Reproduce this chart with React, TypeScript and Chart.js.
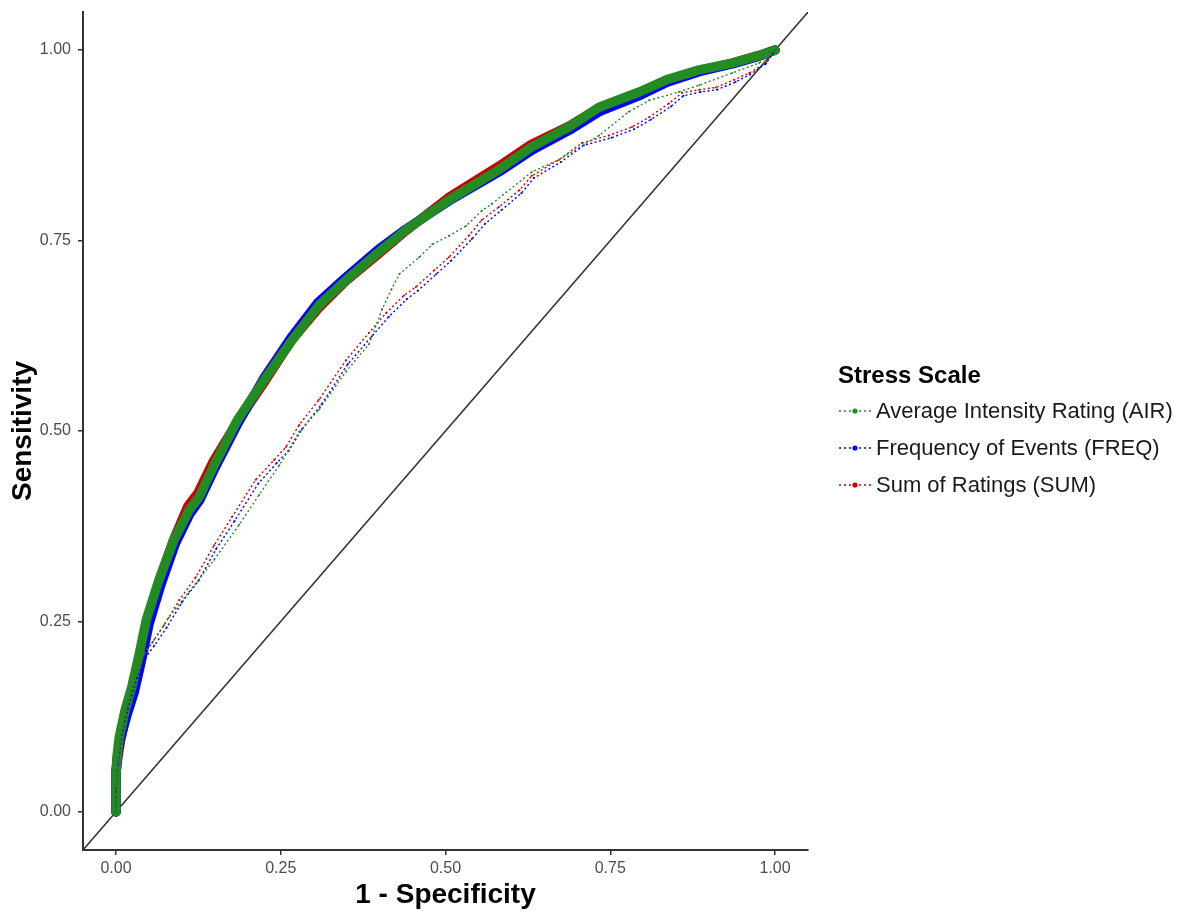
import React, { useEffect, useRef } from "react";
import { Chart, registerables } from "chart.js";

Chart.register(...registerables);

const FONT = "'Liberation Sans', Arial, Helvetica, sans-serif";

const tickValues = [0, 0.25, 0.5, 0.75, 1];
const legendTitle = "Stress Scale";
const seriesNames = ["Average Intensity Rating (AIR)", "Frequency of Events (FREQ)", "Sum of Ratings (SUM)"];
const seriesColors = ["#228B22", "#0000FF", "#CD0000"];

// Solid (thick) ROC curves
const airFpr = [0, 0, 0.002, 0.005, 0.014, 0.024, 0.035, 0.046, 0.065, 0.088, 0.111, 0.126, 0.149, 0.184, 0.225, 0.267, 0.308, 0.349, 0.399, 0.44, 0.505, 0.581, 0.631, 0.687, 0.733, 0.794, 0.835, 0.885, 0.935, 0.976, 1];
const airTpr = [0, 0.049, 0.075, 0.098, 0.134, 0.164, 0.206, 0.252, 0.304, 0.357, 0.396, 0.413, 0.455, 0.514, 0.567, 0.619, 0.665, 0.698, 0.735, 0.764, 0.803, 0.843, 0.873, 0.899, 0.925, 0.945, 0.961, 0.974, 0.983, 0.993, 1];
const freqFpr = [0, 0, 0.002, 0.006, 0.017, 0.028, 0.039, 0.05, 0.068, 0.09, 0.112, 0.127, 0.15, 0.185, 0.225, 0.266, 0.307, 0.348, 0.398, 0.44, 0.505, 0.581, 0.632, 0.688, 0.735, 0.796, 0.837, 0.886, 0.935, 0.976, 1];
const freqTpr = [0, 0.052, 0.072, 0.094, 0.128, 0.158, 0.2, 0.246, 0.298, 0.352, 0.391, 0.409, 0.451, 0.51, 0.57, 0.623, 0.669, 0.701, 0.738, 0.765, 0.802, 0.84, 0.869, 0.895, 0.92, 0.941, 0.958, 0.972, 0.982, 0.992, 1];
const sumFpr = [0, 0, 0.003, 0.007, 0.016, 0.026, 0.036, 0.047, 0.065, 0.087, 0.109, 0.124, 0.147, 0.184, 0.225, 0.267, 0.308, 0.349, 0.399, 0.44, 0.504, 0.58, 0.63, 0.687, 0.733, 0.794, 0.835, 0.885, 0.935, 0.976, 1];
const sumTpr = [0, 0.05, 0.072, 0.094, 0.13, 0.16, 0.202, 0.249, 0.302, 0.356, 0.401, 0.418, 0.459, 0.512, 0.564, 0.62, 0.662, 0.697, 0.733, 0.763, 0.806, 0.847, 0.876, 0.9, 0.924, 0.944, 0.96, 0.973, 0.983, 0.993, 1];

// Dotted ROC curves
const airFprB = [0, 0, 0.003, 0.008, 0.017, 0.03, 0.042, 0.058, 0.08, 0.111, 0.149, 0.187, 0.217, 0.248, 0.278, 0.308, 0.349, 0.384, 0.404, 0.418, 0.43, 0.46, 0.48, 0.505, 0.531, 0.555, 0.57, 0.631, 0.672, 0.733, 0.778, 0.809, 0.854, 0.885, 0.935, 0.976, 1];
const airTprB = [0, 0.029, 0.068, 0.101, 0.14, 0.18, 0.206, 0.226, 0.255, 0.289, 0.331, 0.377, 0.416, 0.455, 0.499, 0.528, 0.578, 0.614, 0.66, 0.686, 0.706, 0.728, 0.745, 0.756, 0.769, 0.789, 0.798, 0.84, 0.856, 0.888, 0.919, 0.934, 0.945, 0.954, 0.97, 0.983, 1];
const freqFprB = [0, 0, 0.003, 0.008, 0.018, 0.032, 0.045, 0.058, 0.077, 0.1, 0.125, 0.152, 0.18, 0.216, 0.244, 0.262, 0.282, 0.312, 0.352, 0.388, 0.414, 0.441, 0.458, 0.486, 0.508, 0.54, 0.56, 0.585, 0.615, 0.634, 0.675, 0.71, 0.752, 0.786, 0.812, 0.842, 0.861, 0.887, 0.912, 0.94, 0.962, 0.986, 1];
const freqTprB = [0, 0.026, 0.062, 0.095, 0.135, 0.176, 0.203, 0.218, 0.242, 0.275, 0.303, 0.345, 0.382, 0.431, 0.458, 0.474, 0.502, 0.535, 0.588, 0.624, 0.65, 0.673, 0.684, 0.706, 0.723, 0.752, 0.772, 0.79, 0.812, 0.832, 0.853, 0.875, 0.885, 0.896, 0.909, 0.926, 0.94, 0.945, 0.948, 0.958, 0.968, 0.982, 1];
const sumFprB = [0, 0, 0.003, 0.008, 0.017, 0.03, 0.042, 0.055, 0.073, 0.096, 0.121, 0.149, 0.176, 0.212, 0.24, 0.258, 0.278, 0.308, 0.349, 0.384, 0.41, 0.437, 0.455, 0.483, 0.505, 0.536, 0.555, 0.581, 0.612, 0.631, 0.672, 0.707, 0.748, 0.783, 0.809, 0.839, 0.859, 0.885, 0.91, 0.938, 0.961, 0.986, 1];
const sumTprB = [0, 0.029, 0.068, 0.101, 0.14, 0.18, 0.206, 0.222, 0.245, 0.278, 0.308, 0.35, 0.387, 0.436, 0.462, 0.479, 0.508, 0.541, 0.593, 0.629, 0.655, 0.678, 0.689, 0.711, 0.728, 0.757, 0.777, 0.794, 0.816, 0.835, 0.856, 0.878, 0.888, 0.899, 0.912, 0.93, 0.944, 0.948, 0.951, 0.961, 0.97, 0.983, 1];

// Reference diagonal
const diagX = [-0.05, 1.05];
const diagY = [-0.05, 1.05];

const pts = (xs: number[], ys: number[]) => xs.map((x, i) => ({ x, y: ys[i] }));

export default function App() {
  const ref = useRef<HTMLCanvasElement | null>(null);

  useEffect(() => {
    if (!ref.current) return;
    const solid = (xs: number[], ys: number[], color: string, order: number) => ({
      data: pts(xs, ys),
      borderColor: color,
      backgroundColor: color,
      borderWidth: 9.5,
      borderCapStyle: "round",
      borderJoinStyle: "round",
      pointRadius: 0,
      tension: 0,
      fill: false,
      order,
    });
    const dotted = (xs: number[], ys: number[], color: string, order: number) => ({
      data: pts(xs, ys),
      borderColor: color,
      backgroundColor: color,
      borderWidth: 1.4,
      borderDash: [2, 2.5],
      pointRadius: 1,
      pointBorderWidth: 0,
      tension: 0,
      fill: false,
      order,
    });
    const chart = new Chart(ref.current, {
      type: "line",
      data: {
        datasets: [
          {
            data: pts(diagX, diagY),
            borderColor: "#333333",
            borderWidth: 1.5,
            pointRadius: 0,
            fill: false,
            order: 10,
          },
          solid(sumFpr, sumTpr, seriesColors[2], 5),
          solid(freqFpr, freqTpr, seriesColors[1], 4),
          solid(airFpr, airTpr, seriesColors[0], 3),
          dotted(sumFprB, sumTprB, seriesColors[2], 2),
          dotted(freqFprB, freqTprB, seriesColors[1], 1),
          dotted(airFprB, airTprB, seriesColors[0], 0),
        ] as any,
      },
      options: {
        animation: false,
        responsive: true,
        maintainAspectRatio: false,
        layout: { padding: { top: 12, right: 386, left: 0, bottom: 0 } },
        plugins: { legend: { display: false }, tooltip: { enabled: false } },
        scales: {
          x: {
            type: "linear",
            min: -0.05,
            max: 1.05,
            afterBuildTicks: (s: any) => {
              s.ticks = tickValues.map((v) => ({ value: v }));
            },
            afterFit: (s: any) => {
              s.height = 62;
              s.paddingLeft = 0;
              s.paddingRight = 0;
            },
            ticks: {
              callback: (v: any) => Number(v).toFixed(2),
              color: "#4d4d4d",
              font: { size: 16, family: FONT },
              padding: 4,
              maxRotation: 0,
              autoSkip: false,
            },
            grid: { display: true, drawOnChartArea: false, drawTicks: true, tickLength: 5, color: "#333333", lineWidth: 1.5 },
            border: { display: true, color: "#333333", width: 2 },
            title: {
              display: true,
              text: "1 - Specificity",
              color: "#000000",
              font: { size: 28, weight: "bold", family: FONT },
              padding: { top: 0, bottom: 0 },
            },
          },
          y: {
            type: "linear",
            min: -0.05,
            max: 1.05,
            afterBuildTicks: (s: any) => {
              s.ticks = tickValues.map((v) => ({ value: v }));
            },
            afterFit: (s: any) => {
              s.width = 83;
              s.paddingTop = 0;
              s.paddingBottom = 0;
            },
            ticks: {
              callback: (v: any) => Number(v).toFixed(2),
              color: "#4d4d4d",
              font: { size: 16, family: FONT },
              padding: 7,
              autoSkip: false,
            },
            grid: { display: true, drawOnChartArea: false, drawTicks: true, tickLength: 5, color: "#333333", lineWidth: 1.5 },
            border: { display: true, color: "#333333", width: 2 },
            title: {
              display: true,
              text: "Sensitivity",
              color: "#000000",
              font: { size: 28, weight: "bold", family: FONT },
              padding: { top: 6, bottom: 0 },
            },
          },
        },
      } as any,
    });
    return () => chart.destroy();
  }, []);

  return (
    <div style={{ position: "absolute", left: 0, top: 0, width: 1194, height: 912, background: "#ffffff" }}>
      <canvas ref={ref} />
      <div
        style={{
          position: "absolute",
          left: 838,
          top: 358,
          fontFamily: FONT,
          color: "#1a1a1a",
        }}
      >
        <div style={{ fontSize: 24, fontWeight: "bold", color: "#000", lineHeight: "34px" }}>{legendTitle}</div>
        {seriesNames.map((name, i) => (
          <div key={name} style={{ display: "flex", alignItems: "center", height: 37 }}>
            <svg width={34} height={12} style={{ marginRight: 4 }}>
              <line x1={1} y1={6} x2={33} y2={6} stroke={seriesColors[i]} strokeWidth={1.5} strokeDasharray="2,3" />
              <circle cx={17} cy={6} r={2.6} fill={seriesColors[i]} />
            </svg>
            <span style={{ fontSize: 22, whiteSpace: "nowrap" }}>{name}</span>
          </div>
        ))}
      </div>
    </div>
  );
}
